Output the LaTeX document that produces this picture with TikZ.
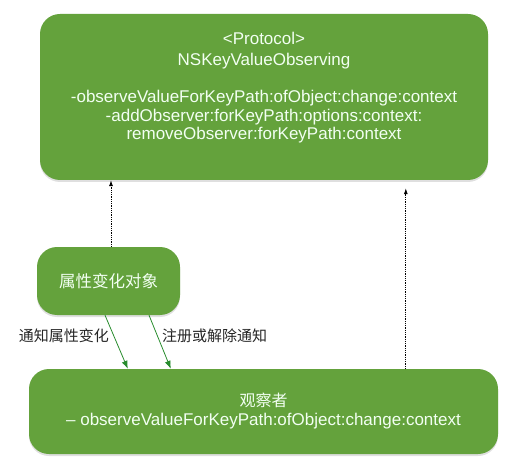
\documentclass[tikz,border=0pt]{standalone}
\usepackage{fontspec}
\setmainfont{Liberation Sans}
\newfontfamily\cjk{Noto Sans CJK SC}
\usepackage{tikz}
\usetikzlibrary{positioning, arrows.meta, shadows}
\usepackage{xcolor}
\definecolor{kvogreen}{RGB}{100,162,60}
\definecolor{linkgreen}{RGB}{40,140,45}

\begin{document}
\begin{tikzpicture}[
    x=1pt, y=-1pt,
    box/.style={rectangle, rounded corners=20pt, fill=kvogreen, draw=none, text=white!95!green,
        drop shadow={shadow xshift=0pt, shadow yshift=-2pt, opacity=0.25}},
    boxtext/.style={align=center, text=white!95!green, font=\fontsize{17}{18.5}\selectfont},
    notify/.style={-{Latex[length=8pt, width=6pt]}, thick, linkgreen},
    dotlink/.style={-{Latex[length=6pt, width=4pt]}, densely dotted, thick, black},
    tag/.style={font=\cjk\fontsize{15}{18}\selectfont, text=black!85}
]
    \useasboundingbox (0,0) rectangle (524,462);

    % Boxes
    \node[box, minimum width=448pt, minimum height=166pt] (protocol) at (264,97) {};
    \node[boxtext, anchor=north] (protocolText) at (264,29) {%
        <Protocol>\\[2.5pt]NSKeyValueObserving\\[18.5pt]
        -observeValueForKeyPath:ofObject:change:context\\
        -addObserver:forKeyPath:options:context:\\
        removeObserver:forKeyPath:context};
    \node[box, minimum width=143pt, minimum height=68pt,
        font=\cjk\fontsize{16.5}{20}\selectfont] (subject) at (108.5,281) {属性变化对象};
    \node[box, minimum width=469pt, minimum height=85pt, align=center,
        font=\fontsize{17}{19}\selectfont] (observer) at (263.5,411.5)
        {{\cjk\fontsize{16}{18}\selectfont 观察者}\\– observeValueForKeyPath:ofObject:change:context};

    % Dotted links to the protocol
    \draw[dotlink] ([xshift=2.5pt]subject.north) -- ([xshift=2.5pt]protocol.south -| subject.north);
    \draw[dotlink, shorten >=8pt] ([xshift=377pt]observer.north west) -- ([xshift=366pt]protocol.south west);

    % Notifications
    \draw[notify] ([xshift=-3.5pt]subject.south) -- node[pos=0.38, left=1pt, tag] {通知属性变化} ([xshift=99pt]observer.north west);
    \draw[notify] ([xshift=40.5pt]subject.south) -- node[pos=0.38, right=1pt, tag] {注册或解除通知} ([xshift=142pt]observer.north west);
\end{tikzpicture}
\end{document}
